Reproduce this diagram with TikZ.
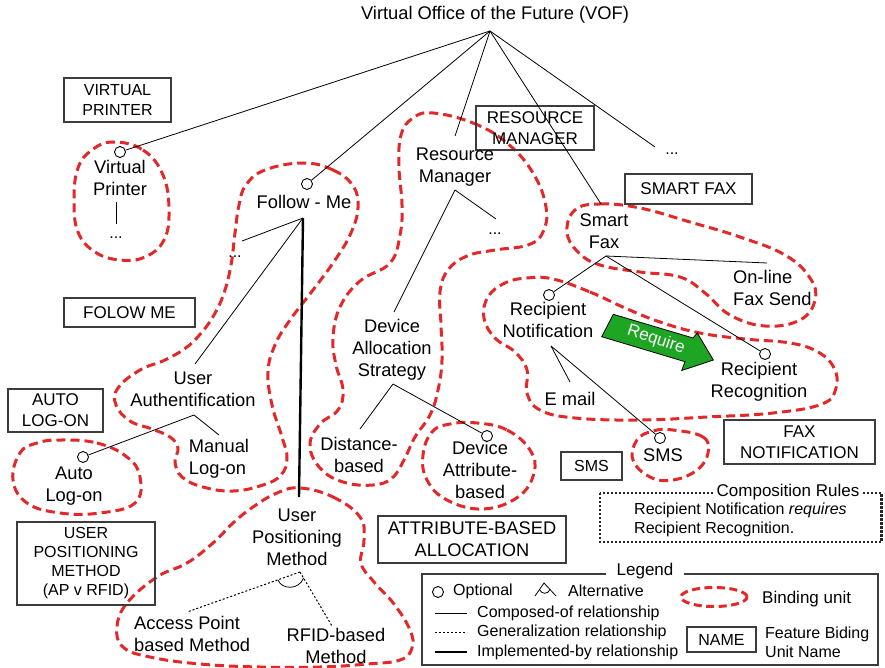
\documentclass[tikz,border=0pt]{standalone}
\usepackage{fontspec}
\setmainfont{Liberation Sans}
\definecolor{bindred}{RGB}{226,40,40}
\definecolor{reqgreen}{RGB}{30,165,35}
\definecolor{boxgray}{RGB}{60,60,60}
\begin{document}
\begin{tikzpicture}[x=1pt,y=-1pt,
  lbl/.style={align=center, inner sep=0pt, font=\fontsize{18.3pt}{22pt}\selectfont},
  unitname/.style={draw=boxgray, line width=1.1pt, align=center, inner sep=0pt},
  opt/.style={circle, draw, fill=white, line width=0.9pt, minimum size=11pt, inner sep=0pt},
  rel/.style={line width=0.8pt},
  impl/.style={line width=2.4pt},
  gen/.style={line width=1pt, dash pattern=on 2pt off 2pt},
  bunit/.style={draw=bindred, line width=3pt, dash pattern=on 9pt off 5pt},
  ellip/.style={inner sep=0pt, anchor=base, font=\fontsize{16pt}{18pt}\selectfont},
  lgtxt/.style={anchor=west, inner sep=0pt, font=\fontsize{16pt}{19pt}\selectfont},
  rulebox/.style={draw=black!85, line width=2.2pt, dash pattern=on 2.2pt off 1.8pt},
]
\useasboundingbox (0,0) rectangle (885,668);

% ---------- binding units ----------
\draw[bunit] plot[smooth cycle, tension=0.7] coordinates {
  (113,142) (143,150) (163,175) (169,210) (164,240) (145,257) (120,260)
  (95,252) (78,232) (74,200) (78,168) (92,150)};
\draw[bunit] plot[smooth cycle, tension=0.7] coordinates {
  (303,163) (333,170) (353,186) (358,208) (350,235) (333,263) (313,290)
  (290,320) (275,345) (268,372) (272,405) (282,437) (287,458) (281,475)
  (263,485) (233,491) (203,487) (182,477) (175,462) (178,448) (170,437)
  (152,429) (130,421) (116,405) (118,388) (140,370) (165,360) (187,347)
  (202,332) (214,315) (224,293) (231,265) (235,233) (239,205) (246,185) (265,170)};
\draw[bunit] plot[smooth cycle, tension=0.7] coordinates {
  (433,113) (473,123) (507,143) (533,173) (546,207) (543,232) (528,245)
  (495,250) (467,256) (448,270) (440,292) (441,325) (442,360) (438,390)
  (430,415) (415,437) (404,460) (392,478) (373,485) (343,482) (320,468)
  (310,445) (320,424) (338,410) (343,390) (336,365) (333,338) (340,307)
  (360,281) (390,263) (400,235) (402,205) (399,167) (401,135) (413,118)};
\draw[bunit] plot[smooth cycle, tension=0.7] coordinates {
  (575,210) (600,204) (640,208) (690,222) (740,237) (785,255) (810,278)
  (815,300) (800,320) (765,326) (730,315) (705,293) (680,277) (640,272)
  (600,265) (578,252) (567,232)};
\draw[bunit] plot[smooth cycle, tension=0.7] coordinates {
  (553,279) (590,292) (625,308) (660,322) (700,333) (745,339) (790,343)
  (818,352) (834,368) (836,388) (822,404) (773,413) (707,417) (640,420)
  (575,418) (540,410) (527,393) (527,370) (515,352) (495,338) (484,318)
  (488,297) (505,283) (527,278)};
\draw[bunit] plot[smooth cycle, tension=0.7] coordinates {
  (477,423) (507,430) (530,450) (534,473) (518,497) (483,509) (447,500)
  (427,480) (423,455) (432,432) (450,424)};
\draw[bunit] plot[smooth cycle, tension=0.7] coordinates {
  (673,430) (703,437) (708,453) (697,470) (673,480) (650,477) (633,460)
  (637,440) (653,431)};
\draw[bunit] plot[smooth cycle, tension=0.7] coordinates {
  (60,440) (97,443) (127,457) (140,477) (135,503) (100,513) (60,513)
  (27,503) (13,480) (20,453) (37,443)};
\draw[bunit] plot[smooth cycle, tension=0.7] coordinates {
  (300,488) (333,497) (360,517) (364,540) (361,563) (374,582) (394,604)
  (410,630) (412,648) (400,660) (367,664) (320,667) (260,667) (200,664)
  (150,657) (123,647) (117,627) (127,603) (157,577) (187,563) (213,543)
  (233,523) (253,507) (277,493)};

% ---------- binding unit names ----------
\node[unitname, minimum width=107pt, minimum height=44pt,
  font=\fontsize{16pt}{20pt}\selectfont] (bxvp) at (117.5,100) {VIRTUAL\\PRINTER};
\node[unitname, minimum width=131pt, minimum height=29pt,
  font=\fontsize{17pt}{20pt}\selectfont] (bxfm) at (129.5,312.5) {FOLOW ME};
\node[unitname, minimum width=118pt, minimum height=44pt,
  font=\fontsize{17pt}{20.6pt}\selectfont] (bxrm) at (535,128) {RESOURCE\\MANAGER};
\node[unitname, minimum width=127pt, minimum height=30pt,
  font=\fontsize{17pt}{20pt}\selectfont] (bxsf) at (688.5,189) {SMART FAX};
\node[unitname, minimum width=95pt, minimum height=43pt,
  font=\fontsize{17pt}{21pt}\selectfont] (bxal) at (55.5,410.5) {AUTO\\LOG-ON};
\node[unitname, minimum width=138pt, minimum height=83pt,
  font=\fontsize{16pt}{19pt}\selectfont] (bxup) at (86,563.5)
  {USER\\POSITIONING\\METHOD\\(AP v RFID)};
\node[unitname, minimum width=188pt, minimum height=47pt,
  font=\fontsize{18.3pt}{21.7pt}\selectfont] (bxab) at (472,539.5)
  {ATTRIBUTE-BASED\\ALLOCATION};
\node[unitname, minimum width=61pt, minimum height=28pt,
  font=\fontsize{16pt}{19pt}\selectfont] (bxsms) at (591.5,466) {SMS};
\node[unitname, minimum width=151pt, minimum height=44pt,
  font=\fontsize{17pt}{21pt}\selectfont] (bxfn) at (799.5,442) {FAX\\NOTIFICATION};

% ---------- feature tree ----------
\node[lbl] (vof) at (495,15) {Virtual Office of the Future (VOF)};
\coordinate (root) at (490,31);

\node[opt] (vpc) at (120,152) {};
\node[lbl] (vp) at (120,178) {Virtual\\Printer};
\coordinate (vpdtop) at (116,202);
\coordinate (vpdend) at (116,224);
\node[ellip] (vpdots) at (116,239) {...};

\node[opt] (fmc) at (307,184) {};
\node[lbl] (fm) at (304,202) {Follow - Me};
\coordinate (fmb) at (303,218);
\coordinate (fmdend) at (242,241);
\node[ellip] (fmdots) at (235,258) {...};
\coordinate (uatop) at (195,364);
\node[lbl] (ua) at (193,389) {User\\Authentification};
\coordinate (uab) at (194,415);
\coordinate (mltop) at (219,435);
\node[lbl, align=left] (ml) at (219,459) {Manual\\Log-on};
\node[opt] (alc) at (83,457) {};
\node[lbl] (al) at (74,486) {Auto\\Log-on};
\coordinate (upmtop) at (299,497);
\node[lbl] (upm) at (297,537) {User\\Positioning\\Method};
\coordinate (alt) at (300,572);
\coordinate (apend) at (187,612);
\coordinate (rfend) at (332,626);
\coordinate (arcl) at (278,580);
\coordinate (arcr) at (303.6,578);
\node[lbl, align=left, anchor=west] (ap) at (134,634) {Access Point\\based Method};
\node[lbl] (rf) at (336,646) {RFID-based\\Method};

\coordinate (rmtop) at (455,136);
\node[lbl] (rm) at (455,167) {Resource\\Manager};
\coordinate (rmb) at (455,190);
\coordinate (rmdend) at (496,219);
\node[ellip] (rmdots) at (495,234) {...};
\coordinate (dastop) at (394,312);
\node[lbl] (das) at (392,350) {Device\\Allocation\\Strategy};
\coordinate (dasb) at (393,384);
\coordinate (dbtop) at (360,429);
\node[lbl] (db) at (359,455) {Distance-\\based};
\node[opt] (dac) at (487,436) {};
\node[lbl] (da) at (480,470) {Device\\Attribute-\\based};

\coordinate (sftop) at (601,204);
\node[lbl] (sf) at (604,231) {Smart\\Fax};
\coordinate (sfb) at (606,256);
\coordinate (olend) at (767,263);
\node[lbl, align=left, anchor=west] (ol) at (733,288) {On-line\\Fax Send};
\node[opt] (rnc) at (549,295) {};
\node[lbl] (rn) at (548,320) {Recipient\\Notification};
\coordinate (rnb) at (551,346);
\coordinate (emtop) at (570,382);
\node[lbl] (em) at (570,399) {E mail};
\node[opt] (smc) at (660,438) {};
\node[lbl] (sm) at (663,455) {SMS};
\node[opt] (rrc) at (765,354) {};
\node[lbl] (rr) at (759,382) {Recipient\\Recognition};

\coordinate (topdend) at (655,147);
\node[ellip] (topdots) at (672,155) {...};

% connectors
\draw[rel] (root) -- (vpc);
\draw[rel] (root) -- (fmc);
\draw[rel] (root) -- (rmtop);
\draw[rel] (root) -- (sftop);
\draw[rel] (root) -- (topdend);
\draw[rel] (vpdtop) -- (vpdend);
\draw[rel] (fmb) -- (fmdend);
\draw[rel] (fmb) -- (uatop);
\draw[impl] (fmb) -- (upmtop);
\draw[rel] (uab) -- (alc);
\draw[rel] (uab) -- (mltop);
\draw[gen] (alt) -- (apend);
\draw[gen] (alt) -- (rfend);
\draw[rel] (arcl) .. controls (282,590) and (299,590) .. (arcr);
\draw[rel] (rmb) -- (dastop);
\draw[rel] (rmb) -- (rmdend);
\draw[rel] (dasb) -- (dbtop);
\draw[rel] (dasb) -- (dac);
\draw[rel] (sfb) -- (olend);
\draw[rel] (sfb) -- (rnc);
\draw[rel] (sfb) -- (rrc);
\draw[rel] (rnb) -- (emtop);
\draw[rel] (rnb) -- (smc);

% require arrow
\draw[fill=reqgreen, line width=0.8pt, line join=miter]
  (601.7,336.7) -- (613.3,314.3) -- (693,338) -- (697.3,333) -- (713.3,360)
  -- (681.7,370.5) -- (685,361.7) -- cycle;
\node[text=white, rotate=-18, inner sep=0pt,
  font=\fontsize{17pt}{20pt}\selectfont] (req) at (656,340) {Require};

% ---------- composition rules ----------
\draw[rulebox] (600,493) rectangle (881.5,542);
\node[fill=white, inner xsep=3pt, inner ysep=1pt,
  font=\fontsize{17pt}{20pt}\selectfont] (crt) at (788,492) {Composition Rules};
\node[anchor=west, align=left, inner sep=0pt,
  font=\fontsize{16pt}{19pt}\selectfont] (crx) at (634,519.5)
  {Recipient Notification \textit{requires}\\Recipient Recognition.};

% ---------- legend ----------
\draw[line width=1.1pt, draw=boxgray] (422,574) rectangle (878,665);
\node[fill=white, inner xsep=11pt, inner ysep=1pt,
  font=\fontsize{17pt}{20pt}\selectfont] (leg) at (645,571) {Legend};
\node[opt] (lgopt) at (438,592) {};
\node[lgtxt] (lgopttx) at (453,591) {Optional};
\coordinate (lgalt) at (544,583);
\coordinate (lgaltl) at (535,596);
\coordinate (lgaltr) at (556,596);
\coordinate (lgarcl) at (539.5,589.5);
\coordinate (lgarcr) at (550,589.5);
\draw[rel] (lgaltl) -- (lgalt) -- (lgaltr);
\draw[rel] (lgarcl) .. controls (541.5,594.5) and (548,594.5) .. (lgarcr);
\node[lgtxt] (lgalttx) at (568,591) {Alternative};
\coordinate (lgc1) at (435,613);
\coordinate (lgc2) at (467,613);
\draw[rel] (lgc1) -- (lgc2);
\node[lgtxt] (lgctx) at (477,613) {Composed-of relationship};
\coordinate (lgg1) at (435,632);
\coordinate (lgg2) at (467,632);
\draw[gen] (lgg1) -- (lgg2);
\node[lgtxt] (lggtx) at (477,632) {Generalization relationship};
\coordinate (lgi1) at (435,652);
\coordinate (lgi2) at (467,652);
\draw[impl] (lgi1) -- (lgi2);
\node[lgtxt] (lgitx) at (477,652) {Implemented-by relationship};
\draw[bunit, dash pattern=on 8pt off 4.5pt] (714,597) ellipse [x radius=33pt, y radius=9.5pt];
\node[lgtxt, font=\fontsize{17pt}{20pt}\selectfont] (lgbtx) at (762,599) {Binding unit};
\node[unitname, minimum width=69pt, minimum height=25pt,
  font=\fontsize{16pt}{19pt}\selectfont] (lgname) at (721.5,639.5) {NAME};
\node[lgtxt, align=left, font=\fontsize{16pt}{19.5pt}\selectfont] (lgntx) at (765,642.5)
  {Feature Biding\\Unit Name};
\end{tikzpicture}
\end{document}
